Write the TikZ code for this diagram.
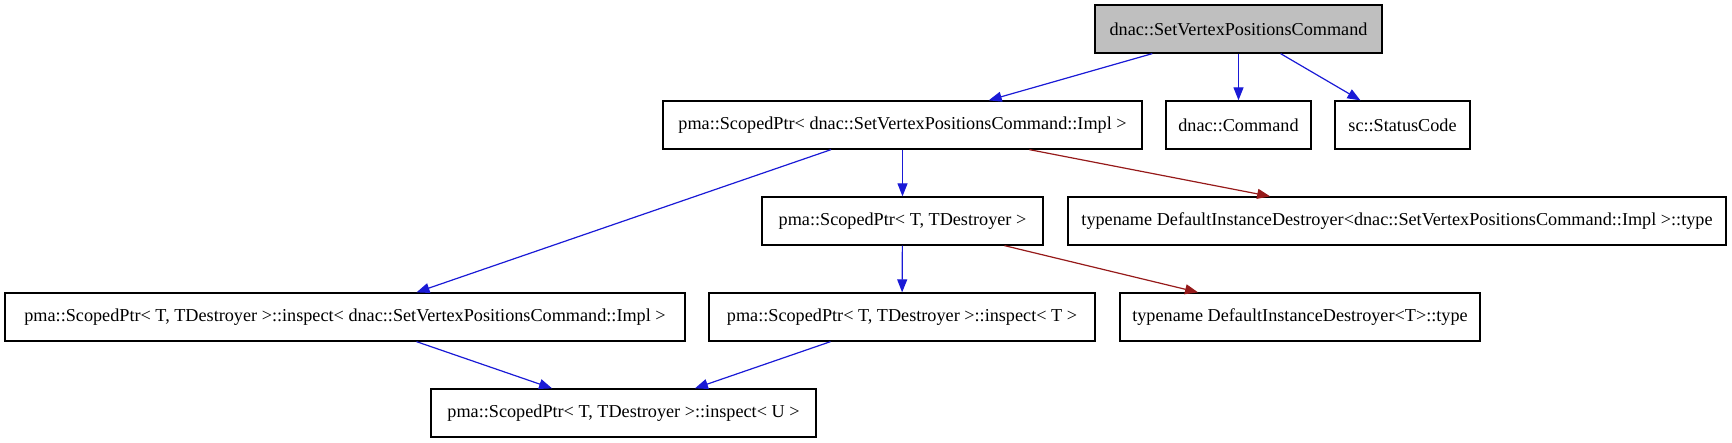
\documentclass[tikz,border=0pt]{standalone}
\usepackage{fontspec}
\setmainfont{Liberation Serif}
\usetikzlibrary{arrows.meta}

\definecolor{edgeblue}{RGB}{26,26,214}
\definecolor{edgered}{RGB}{150,26,26}
\definecolor{rootgray}{RGB}{191,191,191}

\begin{document}
\begin{tikzpicture}[x=1pt, y=-1pt,
  cls/.style={draw, line width=1.3pt, minimum height=48pt, inner xsep=3pt, inner ysep=0pt, font=\fontsize{18.2}{22}\selectfont},
  uses/.style={draw=edgeblue, line width=1.2pt, -{Triangle[length=13pt,width=10pt]}, edgeblue},
  tmpl/.style={draw=edgered, line width=1.2pt, -{Triangle[length=13pt,width=10pt]}, edgered}]

\useasboundingbox (0,0) rectangle (1732,443);

% Root class
\node[cls, fill=rootgray, minimum width=287pt] (cmd) at (1238.5, 29) {dnac::SetVertexPositionsCommand};

% Members of the root class
\node[cls, minimum width=479pt] (spimpl) at (902.5, 125) {pma::ScopedPtr< dnac::SetVertexPositionsCommand::Impl >};
\node[cls, minimum width=145pt] (command) at (1238.5, 125) {dnac::Command};
\node[cls, minimum width=135pt] (status) at (1402.5, 125) {sc::StatusCode};

% Template and its destroyer type
\node[cls, minimum width=281pt] (sptd) at (902.5, 221) {pma::ScopedPtr< T, TDestroyer >};
\node[cls, minimum width=658pt] (typeimpl) at (1397, 221) {typename DefaultInstanceDestroyer<dnac::SetVertexPositionsCommand::Impl >::type};

% inspect helpers
\node[cls, minimum width=680pt] (inspimpl) at (345, 317) {pma::ScopedPtr< T, TDestroyer >::inspect< dnac::SetVertexPositionsCommand::Impl >};
\node[cls, minimum width=386pt] (inspt) at (902, 317) {pma::ScopedPtr< T, TDestroyer >::inspect< T >};
\node[cls, minimum width=360pt] (typet) at (1300, 317) {typename DefaultInstanceDestroyer<T>::type};

\node[cls, minimum width=385pt] (inspu) at (623.5, 413) {pma::ScopedPtr< T, TDestroyer >::inspect< U >};

% Connectors
\draw[uses] (cmd) -- (spimpl);
\draw[uses] (cmd) -- (command);
\draw[uses] (cmd) -- (status);

\draw[uses] (spimpl) -- (sptd);
\draw[uses] (spimpl) -- (inspimpl);
\draw[tmpl] (spimpl) -- (typeimpl);

\draw[uses] (sptd) -- (inspt);
\draw[tmpl] (sptd) -- (typet);

\draw[uses] (inspimpl) -- (inspu);
\draw[uses] (inspt) -- (inspu);

\end{tikzpicture}
\end{document}
